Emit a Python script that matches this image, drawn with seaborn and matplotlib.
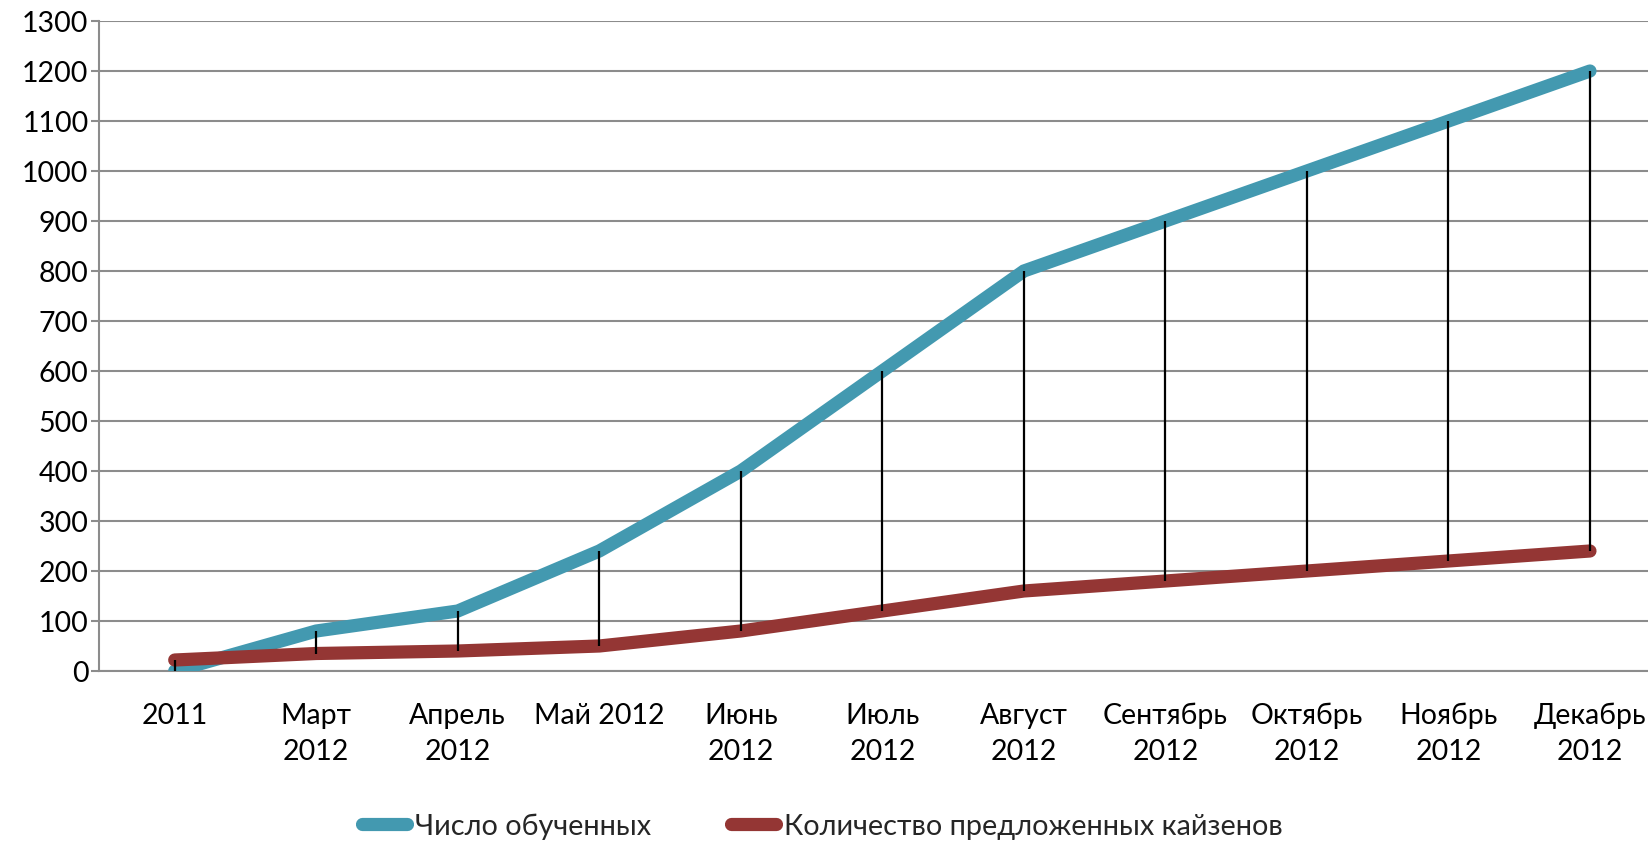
import matplotlib
matplotlib.use("Agg")
import matplotlib.pyplot as plt
import seaborn as sns
import pandas as pd
import numpy as np

# Monthly values
categories = ["2011", "Март\n2012", "Апрель\n2012", "Май 2012", "Июнь\n2012", "Июль\n2012",
              "Август\n2012", "Сентябрь\n2012", "Октябрь\n2012", "Ноябрь\n2012", "Декабрь\n2012"]
trained = [0, 80, 120, 240, 400, 600, 800, 900, 1000, 1100, 1200]
kaizens = [22, 35, 40, 50, 80, 120, 160, 180, 200, 220, 240]
series_names = ["Число обученных", "Количество предложенных кайзенов"]
y_ticks = list(range(0, 1301, 100))

BLUE = "#4399B0"
RED = "#943634"
GRID = "#8C8C8C"
FS = 20.5

sns.set_theme(style="white")
plt.rcParams["font.family"] = ["Lato", "Noto Sans", "DejaVu Sans"]

pos = np.arange(len(categories))
df = pd.DataFrame({
    "pos": np.concatenate([pos, pos]),
    "value": trained + kaizens,
    "series": [series_names[0]] * len(pos) + [series_names[1]] * len(pos),
})

fig = plt.figure(figsize=(16.48, 8.45), dpi=100)
ax = fig.add_axes([99 / 1648, 173 / 845, 1549 / 1648, 650 / 845])

sns.lineplot(data=df, x="pos", y="value", hue="series",
             palette={series_names[0]: BLUE, series_names[1]: RED},
             linewidth=9.5, legend=False, ax=ax, zorder=3)
for ln in ax.lines:
    ln.set_solid_capstyle("round")
    ln.set_solid_joinstyle("miter")

# high-low connectors between the two series
ax.vlines(pos, kaizens, trained, colors="black", linewidth=1.6, zorder=5)

ax.set_xlim(-0.535, 10.41)
ax.set_ylim(0, 1300)
ax.set_yticks(y_ticks)
ax.set_yticklabels([str(v) for v in y_ticks])
ax.set_xticks(pos)
ax.set_xticklabels(categories, linespacing=1.5)
ax.set_xlabel("")
ax.set_ylabel("")

ax.grid(axis="y", color=GRID, linewidth=1.5, zorder=0)
ax.grid(axis="x", visible=False)
ax.set_axisbelow(True)
for side in ["top", "right"]:
    ax.spines[side].set_visible(False)
for side in ["left", "bottom"]:
    ax.spines[side].set_color(GRID)
    ax.spines[side].set_linewidth(1.5)

ax.tick_params(axis="y", which="major", length=5.5, width=1.5, color=GRID,
               labelsize=FS, labelcolor="black", pad=2, left=True)
ax.tick_params(axis="x", which="major", length=0, labelsize=FS,
               labelcolor="black", pad=22)

handles = [plt.Line2D([], [], color=BLUE, linewidth=9.5, solid_capstyle="round"),
           plt.Line2D([], [], color=RED, linewidth=9.5, solid_capstyle="round")]
fig.legend(handles, series_names, loc="center", bbox_to_anchor=(0.499, 0.022),
           ncol=2, frameon=False, fontsize=20.8, handlelength=1.55,
           handletextpad=0.3, columnspacing=2.75)

fig.savefig("out.png", dpi=100, facecolor="white")
